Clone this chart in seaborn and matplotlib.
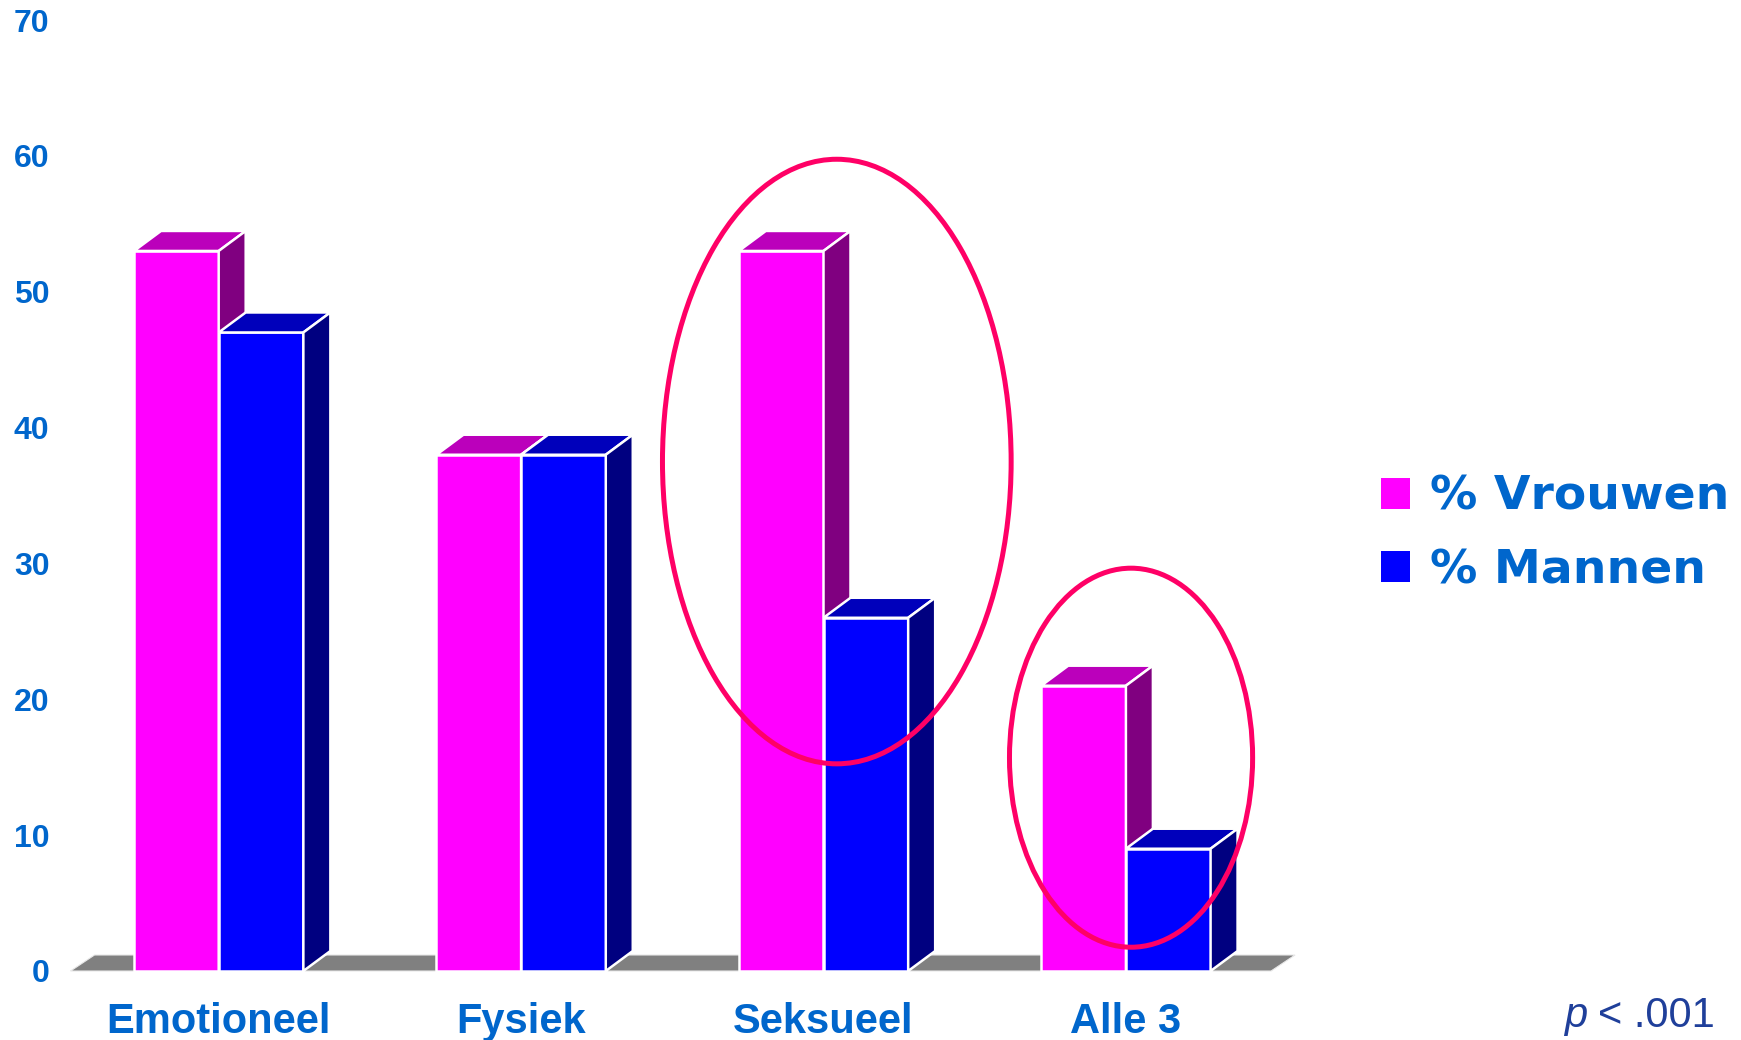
import numpy as np
import pandas as pd
import matplotlib
matplotlib.use("Agg")
import matplotlib.pyplot as plt
import seaborn as sns
from matplotlib.patches import Polygon, Ellipse, Patch
from matplotlib.font_manager import FontProperties

# ---------------- data ----------------
categories = ["Emotioneel", "Fysiek", "Seksueel", "Alle 3"]
vrouwen = [53, 38, 53, 21]
mannen = [47, 38, 26, 9]
series_names = ["% Vrouwen", "% Mannen"]
y_ticks = [0, 10, 20, 30, 40, 50, 60, 70]
p_label_italic = "p"
p_label_rest = "< .001"

# highlighted groups: category, centre offset (categories), centre value, width (categories), height (values)
highlight_cats = ["Seksueel", "Alle 3"]
highlight_dx = [0.044, 0.017]
highlight_cy = [37.5, 15.7]
highlight_w = [1.153, 0.804]
highlight_h = [44.5, 27.9]

# ---------------- style ----------------
front_cols = ["#FF00FF", "#0000FF"]
top_cols = ["#BB00BB", "#0000BB"]
side_cols = ["#800080", "#000080"]
text_blue = "#0066CC"

sns.set_theme(style="white")
plt.rcParams["font.family"] = ["Liberation Sans", "DejaVu Sans"]

df = pd.DataFrame({
    "cat": categories * 2,
    "grp": [series_names[0]] * len(categories) + [series_names[1]] * len(categories),
    "val": vrouwen + mannen,
})

W, H = 1741, 1040
fig = plt.figure(figsize=(W / 100, H / 100), dpi=100)
ax_left, ax_right, ax_bottom, ax_top = 55, 1300, 971, 20
ax = fig.add_axes([ax_left / W, (H - ax_bottom) / H, (ax_right - ax_left) / W, (ax_bottom - ax_top) / H])

sns.barplot(data=df, x="cat", y="val", hue="grp", order=categories, hue_order=series_names,
            palette=front_cols, width=0.56, gap=0, edgecolor="white", linewidth=1.8,
            saturation=1, ax=ax, legend=False, errorbar=None)

xmin, xmax = -0.5413, 3.5757
ax.set_xlim(xmin, xmax)
ax.set_ylim(0, 70)

px_per_x = (ax_right - ax_left) / (xmax - xmin)
px_per_y = (ax_bottom - ax_top) / 70.0
DX = 27 / px_per_x
DY = 20 / px_per_y

# floor
fdx, fdy = 24 / px_per_x, 16 / px_per_y
fx0, fx1 = -0.49, 3.48
floor = Polygon([(fx0, 0), (fx0 + fdx, fdy), (fx1 + fdx, fdy), (fx1, 0)], closed=True,
                facecolor="#808080", edgecolor="#e8e8e8", linewidth=0.8, zorder=1, clip_on=False)
ax.add_patch(floor)

# 3D faces
for h_i, cont in enumerate(ax.containers):
    for c_i, bar in enumerate(cont):
        z = 10 + c_i * 4 + h_i * 2
        bar.set_zorder(z)
        bar.set_clip_on(False)
        x0, w, hh = bar.get_x(), bar.get_width(), bar.get_height()
        top = Polygon([(x0, hh), (x0 + DX, hh + DY), (x0 + w + DX, hh + DY), (x0 + w, hh)], closed=True,
                      facecolor=top_cols[h_i], edgecolor="white", linewidth=1.8, zorder=z, clip_on=False)
        side = Polygon([(x0 + w, 0), (x0 + w, hh), (x0 + w + DX, hh + DY), (x0 + w + DX, DY)], closed=True,
                       facecolor=side_cols[h_i], edgecolor="white", linewidth=1.8, zorder=z, clip_on=False)
        ax.add_patch(top)
        ax.add_patch(side)

# highlight ellipses
for cat, dx, cy, ew, eh in zip(highlight_cats, highlight_dx, highlight_cy, highlight_w, highlight_h):
    cx = categories.index(cat) + dx
    ax.add_patch(Ellipse((cx, cy), ew, eh, facecolor="none", edgecolor="#FF0066",
                         linewidth=3.6, zorder=100, clip_on=False))

# axes styling
for s in ax.spines.values():
    s.set_visible(False)
ax.set_xlabel("")
ax.set_ylabel("")
ax.set_yticks(y_ticks)
ax.set_yticklabels([str(t) for t in y_ticks])
ax.tick_params(axis="y", length=0, pad=4, labelsize=23, labelcolor=text_blue)
ax.tick_params(axis="x", length=0, pad=22, labelsize=30, labelcolor=text_blue)
for lab in ax.get_xticklabels() + ax.get_yticklabels():
    lab.set_fontweight("bold")
ax.grid(False)
ax.set_facecolor("white")

# legend
handles = [Patch(facecolor=c, edgecolor="none") for c in front_cols]
fig.legend(handles, series_names, loc="upper left", bbox_to_anchor=(1381 / W, 1 - 475 / H),
           frameon=False, prop=FontProperties(family="DejaVu Sans", weight="bold", size=34),
           labelcolor=text_blue, handlelength=0.62, handleheight=0.62, handletextpad=0.42,
           labelspacing=0.6, borderpad=0, borderaxespad=0)

# p-value note
pcol = "#1F3F9A"
fig.text(1715 / W, 1 - 1027 / H, p_label_rest, ha="right", va="baseline", fontsize=30, color=pcol)
fig.text(1587 / W, 1 - 1027 / H, p_label_italic, ha="right", va="baseline", fontsize=30,
         color=pcol, style="italic")

fig.savefig("out.png", dpi=100, facecolor="white")
